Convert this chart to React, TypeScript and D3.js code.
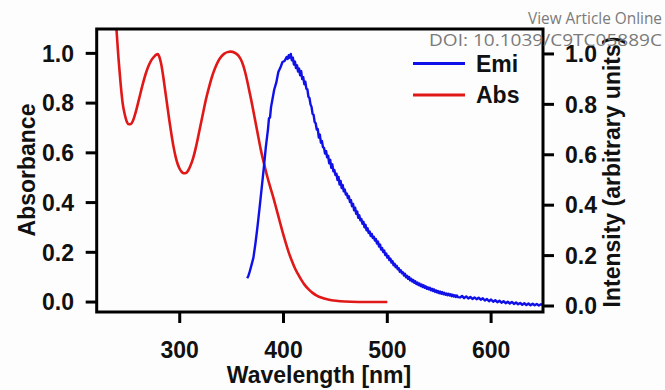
import React from "react";
import * as d3 from "d3";

const xTicks = [300, 400, 500, 600];
const yTicks = [0, 0.2, 0.4, 0.6, 0.8, 1.0];

// Absorbance (left axis) [wavelength nm, absorbance]
const absData: [number, number][] = [
  [237, 1.22], [239, 1.1], [241, 0.98], [243, 0.88], [245, 0.8], [247, 0.755], [249, 0.725],
  [251, 0.715], [253, 0.716], [255, 0.73], [258, 0.77], [261, 0.82], [264, 0.87], [267, 0.915],
  [270, 0.95], [273, 0.975], [276, 0.99], [278.5, 0.997], [280, 0.99], [282, 0.96], [284, 0.91],
  [286, 0.85], [288, 0.79], [290, 0.73], [292, 0.675], [294, 0.625], [296, 0.585], [298, 0.555],
  [300, 0.535], [302, 0.523], [304, 0.518], [306, 0.519], [308, 0.528], [310, 0.545], [313, 0.58],
  [316, 0.63], [319, 0.69], [322, 0.75], [325, 0.81], [328, 0.86], [331, 0.905], [334, 0.94],
  [337, 0.968], [340, 0.987], [343, 0.999], [346, 1.005], [349, 1.007], [351, 1.006], [354, 1.0],
  [357, 0.988], [360, 0.965], [363, 0.925], [366, 0.87], [369, 0.81], [372, 0.745], [375, 0.68],
  [378, 0.615], [381, 0.56], [384, 0.51], [387, 0.465], [390, 0.423], [393, 0.377], [396, 0.33],
  [399, 0.283], [402, 0.24], [405, 0.2], [408, 0.166], [411, 0.136], [414, 0.112], [417, 0.09],
  [420, 0.071], [424, 0.052], [428, 0.037], [432, 0.026], [437, 0.017], [442, 0.011], [448, 0.006],
  [455, 0.003], [465, 0.001], [480, 0.0], [500, 0.0],
];

// Emission (right axis) [wavelength nm, normalized intensity]
const emiData: [number, number][] = [
  [365, 0.11], [366, 0.118], [367, 0.13], [369, 0.16], [371, 0.192], [373, 0.25], [375, 0.318],
  [377, 0.392], [379, 0.47], [381, 0.548], [383, 0.632], [385, 0.7], [386, 0.745], [387, 0.748],
  [388, 0.79], [389, 0.812], [391, 0.858], [393, 0.886], [395, 0.928], [397, 0.946], [399, 0.968],
  [401, 0.972], [403, 0.988], [404, 0.98], [405, 0.995], [406, 0.985], [407, 1.0],
  [408, 0.975], [409, 0.985], [410, 0.958], [411, 0.97], [412, 0.944], [413, 0.955], [414, 0.93],
  [415, 0.942], [416, 0.915], [417, 0.932], [418, 0.9], [419, 0.908], [420, 0.88], [421, 0.89],
  [422, 0.862], [423, 0.86], [424, 0.83], [425, 0.825], [426, 0.8], [427, 0.79], [428, 0.762],
  [429, 0.758], [430, 0.73], [431, 0.725], [432, 0.7], [433, 0.702], [434, 0.668], [435, 0.68],
  [436, 0.648], [437, 0.655], [438, 0.63], [439, 0.628], [440, 0.605], [441, 0.615], [442, 0.59],
  [443, 0.596], [444, 0.566], [445, 0.58], [446, 0.548], [447, 0.562], [448, 0.534], [449, 0.54],
  [450, 0.52], [451, 0.525], [452, 0.5], [453, 0.512], [454, 0.482], [455, 0.496], [456, 0.468],
  [457, 0.48], [458, 0.455], [459, 0.462], [460, 0.442], [461, 0.446], [462, 0.428], [463, 0.435],
  [464, 0.412], [465, 0.42], [466, 0.396], [467, 0.405], [468, 0.38], [469, 0.39], [470, 0.366],
  [471, 0.375], [472, 0.35], [473, 0.36], [474, 0.34], [475, 0.345], [476, 0.326], [477, 0.334],
  [478, 0.312], [479, 0.322], [480, 0.3], [481, 0.308], [482, 0.29], [483, 0.296], [484, 0.278],
  [485, 0.286], [486, 0.27], [487, 0.275], [488, 0.26], [489, 0.266], [490, 0.248], [491, 0.256],
  [492, 0.236], [493, 0.244], [494, 0.224], [495, 0.23], [496, 0.214], [497, 0.22], [498, 0.202],
  [499, 0.208], [500, 0.192], [501, 0.198], [502, 0.182], [503, 0.188], [504, 0.172], [505, 0.178],
  [506, 0.162], [507, 0.168], [508, 0.154], [509, 0.16], [510, 0.146], [511, 0.15], [512, 0.136],
  [513, 0.142], [514, 0.13], [515, 0.134], [516, 0.121], [517, 0.128], [518, 0.114], [519, 0.12],
  [520, 0.108], [521, 0.115], [522, 0.102], [523, 0.108], [524, 0.097], [525, 0.103], [526, 0.092],
  [527, 0.098], [528, 0.087], [529, 0.093], [530, 0.083], [531, 0.089], [532, 0.079], [533, 0.085],
  [534, 0.075], [535, 0.082], [536, 0.072], [537, 0.078], [538, 0.068], [539, 0.074], [540, 0.066],
  [541, 0.072], [542, 0.062], [543, 0.068], [544, 0.06], [545, 0.066], [546, 0.056], [547, 0.062],
  [548, 0.054], [549, 0.059], [550, 0.051], [551, 0.057], [552, 0.049], [553, 0.055], [554, 0.047],
  [555, 0.052], [556, 0.045], [557, 0.05], [558, 0.043], [559, 0.049], [560, 0.042], [561, 0.047],
  [562, 0.039], [563, 0.045], [564, 0.038], [565, 0.043], [566, 0.036], [567, 0.042], [568, 0.035],
  [570, 0.034], [572, 0.04], [574, 0.031], [576, 0.038], [578, 0.03], [580, 0.036], [582, 0.028],
  [584, 0.034], [586, 0.027], [588, 0.033], [590, 0.025], [592, 0.031], [594, 0.022], [596, 0.028],
  [598, 0.019], [600, 0.026], [602, 0.017], [604, 0.023], [606, 0.015], [608, 0.021], [610, 0.013],
  [612, 0.019], [614, 0.011], [616, 0.017], [618, 0.01], [620, 0.016], [622, 0.008], [624, 0.014],
  [626, 0.007], [628, 0.012], [630, 0.005], [632, 0.011], [634, 0.004], [636, 0.01], [638, 0.003],
  [640, 0.009], [642, 0.003], [644, 0.008], [646, 0.002], [648, 0.007], [650, 0.003],
];

const legendItems = [
  { label: "Emi", color: "#1010e8" },
  { label: "Abs", color: "#e01818" },
];

const W = 665;
const H = 390;
const L = 96.7, R = 543, T = 29, B = 312;

export default function App() {
  const x = d3.scaleLinear().domain([220, 650]).range([L, R]);
  const yL = d3.scaleLinear().domain([-0.04, 1.098]).range([B, T]);
  const yR = d3.scaleLinear().domain([-0.0238, 1.099]).range([B, T]);

  const absLine = d3.line<[number, number]>().x((d) => x(d[0])).y((d) => yL(d[1])).curve(d3.curveMonotoneX);
  const emiLine = d3.line<[number, number]>().x((d) => x(d[0])).y((d) => yR(d[1]));

  const font = "'Liberation Sans', Arial, sans-serif";
  const tickFont = { fontFamily: font, fontWeight: 700, fontSize: 23, fill: "#111" } as const;

  return (
    <svg width={W} height={H} style={{ position: "absolute", left: 0, top: 0, background: "#fff" }}>
      <defs>
        <clipPath id="plotClip">
          <rect x={L} y={T} width={R - L} height={B - T} />
        </clipPath>
      </defs>
      <rect x={0} y={0} width={W} height={H} fill="#fdfdfd" />

      <g clipPath="url(#plotClip)">
        <path d={absLine(absData) || ""} fill="none" stroke={legendItems[1].color} strokeWidth={2.6} strokeLinejoin="round" />
        <path d={emiLine(emiData) || ""} fill="none" stroke={legendItems[0].color} strokeWidth={2.4} strokeLinejoin="round" />
      </g>

      <rect x={L} y={T} width={R - L} height={B - T} fill="none" stroke="#000" strokeWidth={3} />

      {/* left axis */}
      {yTicks.map((t) => (
        <g key={"l" + t}>
          <line x1={L - 11} x2={L} y1={yL(t)} y2={yL(t)} stroke="#000" strokeWidth={3} />
          <text x={74} y={yL(t)} dy="0.36em" textAnchor="end" {...tickFont}>
            {t.toFixed(1)}
          </text>
        </g>
      ))}
      {/* right axis */}
      {yTicks.map((t) => (
        <g key={"r" + t}>
          <line x1={R} x2={R + 11} y1={yR(t)} y2={yR(t)} stroke="#000" strokeWidth={3} />
          <text x={565} y={yR(t)} dy="0.36em" textAnchor="start" {...tickFont}>
            {t.toFixed(1)}
          </text>
        </g>
      ))}
      {/* bottom axis */}
      {xTicks.map((t) => (
        <g key={"b" + t}>
          <line x1={x(t)} x2={x(t)} y1={B} y2={B + 11} stroke="#000" strokeWidth={3} />
          <text x={x(t)} y={358} textAnchor="middle" {...tickFont}>
            {t}
          </text>
        </g>
      ))}

      <text x={319} y={383} textAnchor="middle" {...tickFont}>
        Wavelength [nm]
      </text>
      <text transform="translate(35,170) rotate(-90)" textAnchor="middle" {...tickFont}>
        Absorbance
      </text>
      <text transform="translate(620,172) rotate(-90)" textAnchor="middle" {...tickFont}>
        Intensity (arbitrary units)
      </text>

      {/* legend */}
      {legendItems.map((it, i) => (
        <g key={it.label}>
          <line x1={413} x2={465} y1={63.5 + i * 31.5} y2={63.5 + i * 31.5} stroke={it.color} strokeWidth={3} />
          <text x={476} y={63.5 + i * 31.5} dy="0.36em" {...tickFont}>
            {it.label}
          </text>
        </g>
      ))}

      {/* watermark */}
      <text x={528} y={24} textLength={134} lengthAdjust="spacingAndGlyphs" fontFamily="'Open Sans', sans-serif" fontWeight={400} fontSize={16} fill="#7a7a7a">
        View Article Online
      </text>
      <text x={429} y={46} textLength={233} lengthAdjust="spacingAndGlyphs" fontFamily="'Open Sans', sans-serif" fontWeight={400} fontSize={17} fill="#7a7a7a">
        DOI: 10.1039/C9TC05889C
      </text>
    </svg>
  );
}
